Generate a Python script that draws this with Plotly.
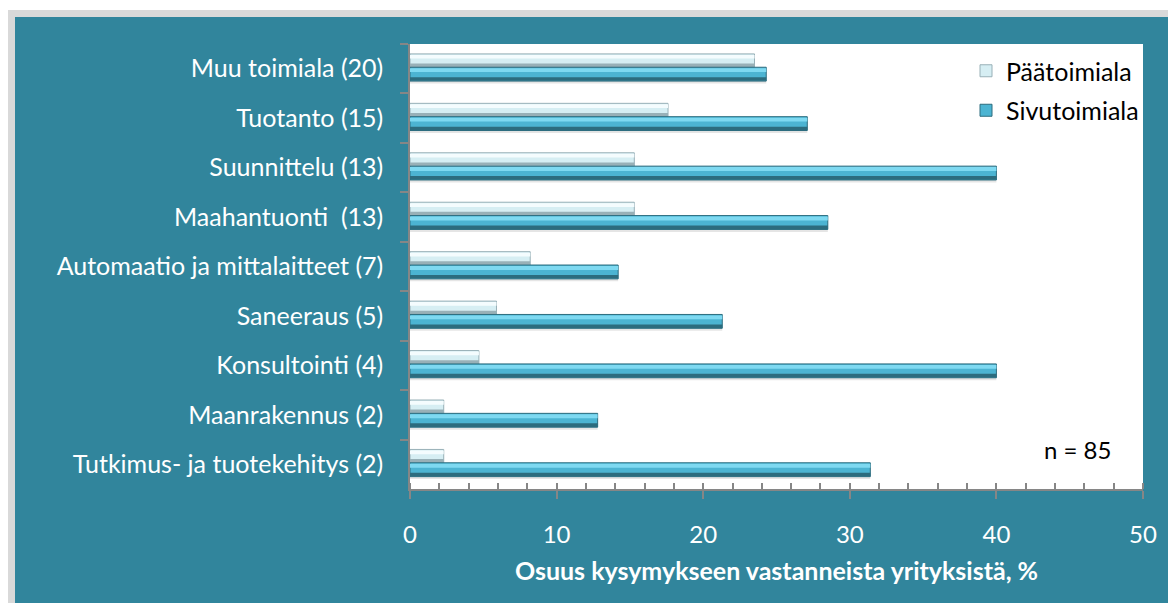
import plotly.graph_objects as go

categories = [
    "Muu toimiala (20)",
    "Tuotanto (15)",
    "Suunnittelu (13)",
    "Maahantuonti  (13)",
    "Automaatio ja mittalaitteet (7)",
    "Saneeraus (5)",
    "Konsultointi (4)",
    "Maanrakennus (2)",
    "Tutkimus- ja tuotekehitys (2)",
]
paatoimiala = [23.5, 17.6, 15.3, 15.3, 8.2, 5.9, 4.7, 2.3, 2.3]
sivutoimiala = [24.3, 27.1, 40.0, 28.5, 14.2, 21.3, 40.0, 12.8, 31.4]

TEAL = "#31859c"
FONT = "Lato"
FS = 25

fig = go.Figure()

# bars drawn in layers (shadow, body, highlight, dark edge) to imitate the bevel look
def bevel_bar(vals, name, offset, width, body, light, dark):
    fig.add_trace(go.Bar(
        y=categories, x=vals, orientation="h", offset=offset + 0.05, width=width,
        marker=dict(color="rgba(0,0,0,0.10)", line_width=0),
        showlegend=False, hoverinfo="skip"))
    fig.add_trace(go.Bar(
        y=categories, x=vals, orientation="h", offset=offset, width=width, name=name,
        legendgroup=name,
        marker=dict(color=body, line=dict(color=dark, width=1))))
    fig.add_trace(go.Bar(
        y=categories, x=vals, orientation="h", offset=offset + 0.02, width=width * 0.28,
        marker=dict(color=light, line_width=0), showlegend=False, hoverinfo="skip"))
    fig.add_trace(go.Bar(
        y=categories, x=vals, orientation="h", offset=offset + width * 0.72, width=width * 0.26,
        marker=dict(color=dark, line_width=0), showlegend=False, hoverinfo="skip"))

bevel_bar(paatoimiala, "Päätoimiala", -0.30, 0.27, "#d6eef3", "#f4fcfe", "#98b0b7")
bevel_bar(sivutoimiala, "Sivutoimiala", -0.03, 0.28, "#4cb4d2", "#7ed9f1", "#2c6c7e")

# page body has an 8px margin, so work in screen coords shifted by 8
OFF = 8
W, H = 1176 - OFF, 603 - OFF
L, R, T, B = 410 - OFF, 1143 - OFF, 44 - OFF, 489 - OFF
def px(x):
    return (x - OFF - L) / (R - L)
def py(y):
    return (B - (y - OFF)) / (B - T)

fig.add_shape(type="rect", xref="paper", yref="paper", layer="below",
              x0=px(8), x1=px(1200), y0=py(10), y1=py(640),
              fillcolor="#d9d9d9", line_width=0)
fig.add_shape(type="rect", xref="paper", yref="paper", layer="below",
              x0=px(15), x1=px(1200), y0=py(17), y1=py(640),
              fillcolor=TEAL, line_width=0)
fig.add_shape(type="rect", xref="paper", yref="paper", layer="below",
              x0=0, x1=1, y0=0, y1=1, fillcolor="white", line_width=0)

fig.add_annotation(text="n = 85", xref="paper", yref="paper", x=px(1077), y=py(449),
                   xanchor="center", yanchor="middle",
                   showarrow=False, font=dict(family=FONT, size=FS - 1, color="black"))

fig.update_layout(
    width=W, height=H,
    margin=dict(l=L, r=W - R, t=T, b=H - B, pad=0),
    paper_bgcolor="white",
    plot_bgcolor="rgba(0,0,0,0)",
    barmode="overlay",
    font=dict(family=FONT, size=FS, color="white"),
    legend=dict(
        x=px(966), y=py(48), xanchor="left", yanchor="top",
        font=dict(family=FONT, size=FS, color="black"),
        bgcolor="rgba(0,0,0,0)", traceorder="grouped",
        itemwidth=30, tracegroupgap=4,
    ),
    showlegend=True,
)

fig.update_xaxes(
    range=[0, 50], tickvals=[0, 10, 20, 30, 40, 50],
    showgrid=False, zeroline=False,
    showline=True, linecolor="#868686", linewidth=1.5,
    ticks="outside", ticklen=8, tickcolor="#868686", tickwidth=1.5,
    minor=dict(dtick=2, ticks="inside", ticklen=6, tickcolor="#868686", tickwidth=1.5),
    tickfont=dict(family=FONT, size=FS - 1, color="white"),
    ticklabelstandoff=15,
    title=dict(text="<b>Osuus kysymykseen vastanneista yrityksistä, %</b>",
               font=dict(family=FONT, size=FS, color="white"), standoff=16),
)
fig.update_yaxes(
    autorange="reversed", showgrid=False,
    showline=True, linecolor="#868686", linewidth=1.5,
    ticks="outside", ticklen=8, tickcolor="#868686", tickwidth=1.5,
    tickson="boundaries",
    tickfont=dict(family=FONT, size=FS, color="white"),
    ticklabelstandoff=20,
)

fig.write_html("out.html")
